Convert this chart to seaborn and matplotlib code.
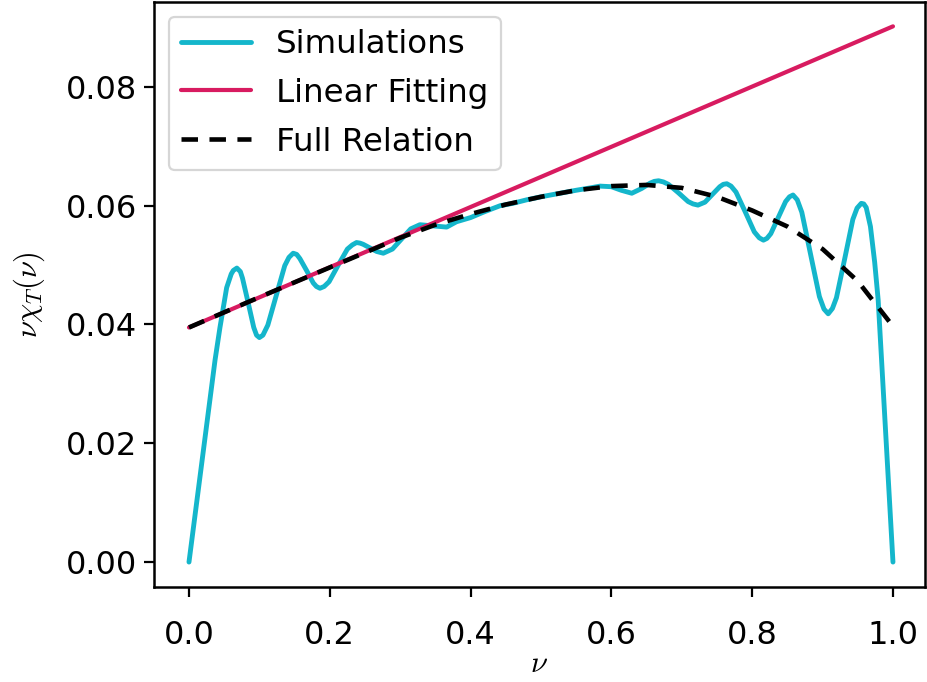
import matplotlib
matplotlib.use("Agg")
import matplotlib.pyplot as plt
import seaborn as sns
import pandas as pd

# Simulated nu * chi_T(nu)
sim_nu = [0.0, 0.037, 0.044, 0.0535, 0.060, 0.063, 0.068, 0.073, 0.076, 0.084,
          0.092, 0.096, 0.100, 0.105, 0.112, 0.124, 0.136, 0.142, 0.148, 0.153,
          0.1575, 0.167, 0.1765, 0.181, 0.186, 0.192, 0.199, 0.212, 0.225, 0.232,
          0.238, 0.243, 0.2475, 0.257, 0.2665, 0.276, 0.289, 0.302, 0.315, 0.328,
          0.347, 0.366, 0.380, 0.400, 0.420, 0.442, 0.460, 0.480, 0.500, 0.527,
          0.550, 0.570, 0.584, 0.600, 0.614, 0.629, 0.643, 0.655, 0.661, 0.667,
          0.674, 0.681, 0.695, 0.709, 0.716, 0.723, 0.733, 0.7435, 0.754, 0.759,
          0.764, 0.770, 0.777, 0.790, 0.803, 0.810, 0.816, 0.821, 0.8265, 0.837,
          0.8475, 0.853, 0.858, 0.864, 0.8705, 0.883, 0.8955, 0.902, 0.908, 0.914,
          0.9197, 0.9315, 0.943, 0.949, 0.955, 0.9585, 0.962, 0.968, 0.974, 0.979,
          1.0]
sim_val = [0.0, 0.0340, 0.0395, 0.0462, 0.0485, 0.0491, 0.0495, 0.0489, 0.0478, 0.0437,
           0.0395, 0.0382, 0.0378, 0.0382, 0.0399, 0.0449, 0.0499, 0.0513, 0.0520, 0.0518,
           0.0511, 0.0491, 0.0470, 0.0464, 0.0461, 0.0464, 0.0472, 0.0500, 0.0527, 0.0534,
           0.0538, 0.0537, 0.0535, 0.0529, 0.0523, 0.0520, 0.0527, 0.0544, 0.0561, 0.0568,
           0.0566, 0.0564, 0.0573, 0.0580, 0.0590, 0.0600, 0.0604, 0.0610, 0.0615, 0.0621,
           0.0626, 0.0630, 0.0633, 0.0632, 0.0626, 0.0621, 0.0629, 0.0638, 0.0641, 0.0642,
           0.0640, 0.0636, 0.0622, 0.0607, 0.0603, 0.0601, 0.0606, 0.0619, 0.0632, 0.0636,
           0.0637, 0.0633, 0.0623, 0.0590, 0.0556, 0.0546, 0.0542, 0.0545, 0.0553, 0.0580,
           0.0607, 0.0615, 0.0618, 0.0610, 0.0589, 0.0518, 0.0447, 0.0426, 0.0418, 0.0427,
           0.0445, 0.0511, 0.0577, 0.0596, 0.0604, 0.0603, 0.0597, 0.0565, 0.0505, 0.0441,
           0.0]

# Linear fit
lin_nu = [0.0, 1.0]
lin_val = [0.0395, 0.0902]

# Full relation
full_nu = [0.0, 0.1, 0.2, 0.3, 0.35, 0.4, 0.45, 0.5, 0.55, 0.6, 0.65, 0.7,
           0.75, 0.8, 0.85, 0.9, 0.95, 1.0]
full_val = [0.0395, 0.0446, 0.0496, 0.0546, 0.0568, 0.0586, 0.0602, 0.0615,
            0.0626, 0.0633, 0.0635, 0.0630, 0.0615, 0.0592, 0.0565, 0.0527,
            0.0473, 0.0397]

sns.set_theme(style="ticks")
plt.rcParams["font.family"] = ["DejaVu Sans"]
plt.rcParams["mathtext.fontset"] = "cm"
plt.rcParams["text.color"] = "black"
plt.rcParams["axes.labelcolor"] = "black"
plt.rcParams["xtick.color"] = "black"
plt.rcParams["ytick.color"] = "black"

W, H = 927, 682
fig = plt.figure(figsize=(W / 100, H / 100), dpi=100)
ax = fig.add_axes([154 / W, 1 - 587 / H, (925 - 154) / W, (587 - 2) / H])

sim = pd.DataFrame({"nu": sim_nu, "val": sim_val})
lin = pd.DataFrame({"nu": lin_nu, "val": lin_val})
full = pd.DataFrame({"nu": full_nu, "val": full_val})

sns.lineplot(data=sim, x="nu", y="val", ax=ax, color="#14b6cb", lw=3.5,
             label="Simulations", sort=False)
sns.lineplot(data=lin, x="nu", y="val", ax=ax, color="#d81b60", lw=3.0,
             label="Linear Fitting")
sns.lineplot(data=full, x="nu", y="val", ax=ax, color="black", lw=3.3,
             ls=(0, (3.6, 2.5)), label="Full Relation")

ax.set_xlim(-0.0497, 1.0455)
ax.set_ylim(-0.0042, 0.0943)
ax.set_xticks([0.0, 0.2, 0.4, 0.6, 0.8, 1.0])
ax.set_yticks([0.00, 0.02, 0.04, 0.06, 0.08])
ax.set_xticklabels(["0.0", "0.2", "0.4", "0.6", "0.8", "1.0"])
ax.set_yticklabels(["0.00", "0.02", "0.04", "0.06", "0.08"])
ax.tick_params(labelsize=23, length=7, width=1.6, color="black")
ax.tick_params(axis="y", pad=5)
ax.tick_params(axis="x", pad=17)
for sp in ax.spines.values():
    sp.set_linewidth(1.8)
    sp.set_color("black")

ax.set_xlabel(r"$\nu$", fontsize=22, labelpad=-2)
ax.set_ylabel(r"$\nu\chi_T(\nu)$", fontsize=22, labelpad=14)

leg = ax.legend(loc="upper left", fontsize=23.4, frameon=True, handlelength=2.15,
                borderpad=0.38, labelspacing=0.55, handletextpad=0.77,
                bbox_to_anchor=(0.0, 1.0), borderaxespad=0.45)
leg.get_frame().set_edgecolor("#cccccc")
leg.get_frame().set_linewidth(1.6)

fig.savefig("out.png", dpi=100)
